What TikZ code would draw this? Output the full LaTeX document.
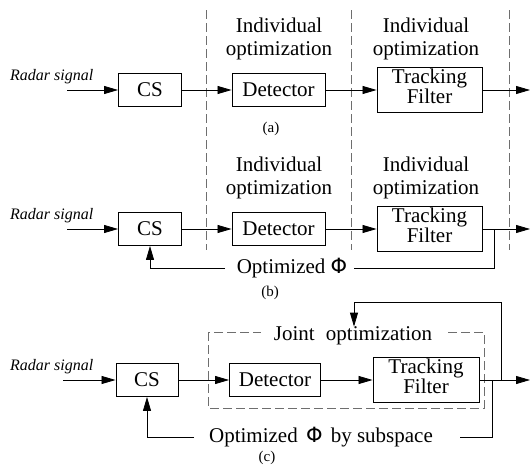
\documentclass[tikz,border=0pt]{standalone}
\usepackage{fontspec}
\setmainfont{Liberation Serif}
\newfontfamily\phifont{DejaVu Sans}
\usetikzlibrary{positioning,arrows.meta}
\definecolor{GuideGray}{RGB}{110,110,110}

\begin{document}
\begin{tikzpicture}[x=1pt,y=-1pt,
  blk/.style={draw,line width=0.9pt,minimum height=33pt,inner sep=0pt,font=\rmfamily\fontsize{21}{17}\selectfont},
  tall/.style={blk,minimum height=45pt,align=center},
  lbl/.style={font=\rmfamily\fontsize{21}{23}\selectfont,align=center,inner sep=0pt},
  sig/.style={font=\rmfamily\fontsize{16}{18}\selectfont\itshape,inner sep=0pt},
  tag/.style={font=\rmfamily\fontsize{15}{16}\selectfont},
  flow/.style={line width=0.8pt,-{Triangle[length=14pt,width=8pt]}},
  feed/.style={line width=0.8pt},
  guide/.style={GuideGray,line width=0.8pt,dash pattern=on 9pt off 4pt}]
  \useasboundingbox (0,0) rectangle (530,471);

  % dashed separators of (a) and (b)
  \foreach \gx in {206,351,509}
    \draw[guide] (\gx,10) -- (\gx,250);

  % (a) and (b): the same chain
  \foreach \y/\p in {90/a,229/b} {
    \node[sig,anchor=south west] (rs\p) at (10,\y-6) {Radar signal};
    \node[blk,minimum width=63pt] (cs\p) at (150,\y) {CS};
    \node[blk,minimum width=93pt] (det\p) at (278.5,\y) {Detector};
    \node[tall,minimum width=105pt] (tf\p) at (429.5,\y) {Tracking\\Filter\rule[-7pt]{0pt}{7pt}};
    \node[lbl] (iod\p) at (279,\y-51) {Individual\\optimization};
    \node[lbl] (iot\p) at (426,\y-51) {Individual\\optimization};
    \coordinate (in\p) at (67,\y);
    \coordinate (out\p) at (530,\y);
    \draw[flow] (in\p) -- (cs\p);
    \draw[flow] (cs\p) -- (det\p);
    \draw[flow] (det\p) -- (tf\p);
    \draw[flow] (tf\p) -- (out\p);
  }

  % (b) feedback
  \coordinate (tapb) at (494,229);
  \coordinate (fbrb) at (354,268);
  \coordinate (fblb) at (225,268);
  \node[lbl] (optb) at (292,268) {Optimized {\phifont Φ}};
  \draw[feed] (tapb) |- (fbrb);
  \draw[flow] (fblb) -| (csb);

  % (c) joint loop
  \node[sig,anchor=south west] (rsc) at (10,374) {Radar signal};
  \node[blk,minimum width=62pt] (csc) at (147,380) {CS};
  \node[blk,minimum width=91pt] (detc) at (275,380) {Detector};
  \node[tall,minimum width=106pt] (tfc) at (426,380) {Tracking\\Filter\rule[-7pt]{0pt}{7pt}};
  \draw[guide] (208,332) rectangle (484,408);
  \node[lbl,fill=white,inner xsep=13pt] (joint) at (353,336) {Joint\hspace{6pt} optimization};
  \coordinate (inc) at (63,380);
  \coordinate (outc) at (530,380);
  \draw[flow] (inc) -- (csc);
  \draw[flow] (csc) -- (detc);
  \draw[flow] (detc) -- (tfc);
  \draw[flow] (tfc) -- (outc);
  \coordinate (tapc) at (501,380);
  \coordinate (topc) at (354,302);
  \draw[flow] (tapc) |- (topc) -- (joint.north -| topc);
  \coordinate (tapd) at (492,380);
  \coordinate (fbrc) at (460,437);
  \coordinate (fblc) at (194,437);
  \node[lbl] (optc) at (321,437) {Optimized\hspace{3pt} {\phifont Φ}\hspace{3pt} by subspace};
  \draw[feed] (tapd) |- (fbrc);
  \draw[flow] (fblc) -| (csc);

  % captions
  \node[tag] (capa) at (271,129) {(a)};
  \node[tag] (capb) at (270,293) {(b)};
  \node[tag] (capc) at (267,458) {(c)};
\end{tikzpicture}
\end{document}
